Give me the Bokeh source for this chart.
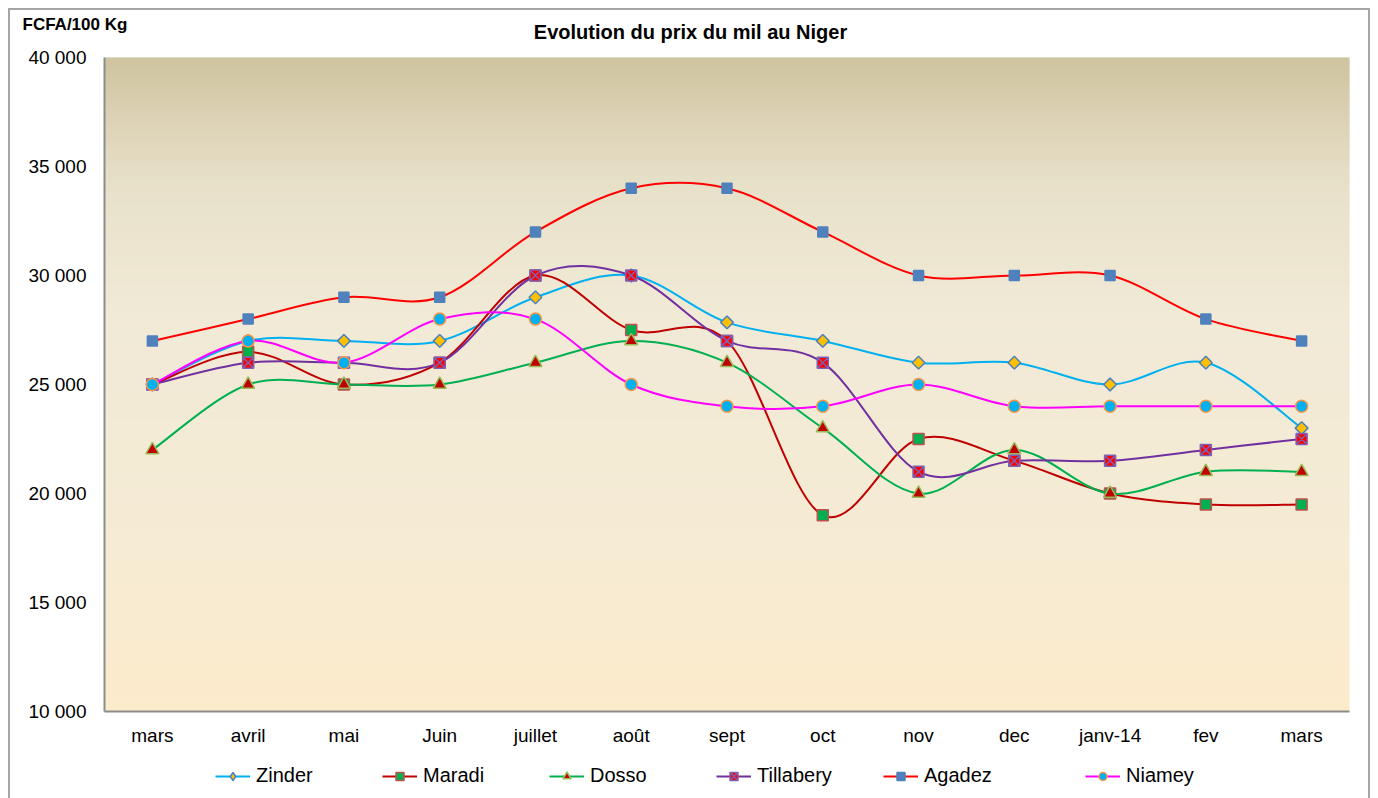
import math
from bokeh.plotting import figure
from bokeh.layouts import column
from bokeh.models import FixedTicker, Legend, LegendItem, Label
from bokeh.embed import file_html
from bokeh.resources import INLINE

# ---------------- data ----------------
months = ["mars", "avril", "mai", "Juin", "juillet", "août", "sept", "oct",
          "nov", "dec", "janv-14", "fev", "mars"]
zinder    = [25000, 27000, 27000, 27000, 29000, 30000, 27850, 27000, 26000, 26000, 25000, 26000, 23000]
maradi    = [25000, 26500, 25000, 26000, 30000, 27500, 27000, 19000, 22500, 21500, 20000, 19500, 19500]
dosso     = [22000, 25000, 25000, 25000, 26000, 27000, 26000, 23000, 20000, 22000, 20000, 21000, 21000]
tillabery = [25000, 26000, 26000, 26000, 30000, 30000, 27000, 26000, 21000, 21500, 21500, 22000, 22500]
agadez    = [27000, 28000, 29000, 29000, 32000, 34000, 34000, 32000, 30000, 30000, 30000, 28000, 27000]
niamey    = [25000, 27000, 26000, 28000, 28000, 25000, 24000, 24000, 25000, 24000, 24000, 24000, 24000]
series_names = ["Zinder", "Maradi", "Dosso", "Tillabery", "Agadez", "Niamey"]
series_values = [zinder, maradi, dosso, tillabery, agadez, niamey]
y_ticks = [10000, 15000, 20000, 25000, 30000, 35000, 40000]
y_tick_labels = ["10 000", "15 000", "20 000", "25 000", "30 000", "35 000", "40 000"]
title_text = "Evolution du prix du mil au Niger"
unit_text = "FCFA/100  Kg"

# ---------------- styles ----------------
styles = {
    "Zinder":    dict(line="#00B0F0", marker="square",   angle=math.pi / 4, fill="#FFC000", outline="#4F81BD", size=9,
                      leg_marker="diamond", leg_size=13),
    "Maradi":    dict(line="#C00000", marker="square",   angle=0, fill="#00B050", outline="#C0504D", size=11),
    "Dosso":     dict(line="#00B050", marker="triangle", angle=0, fill="#C00000", outline="#9BBB59", size=13),
    "Tillabery": dict(line="#7030A0", marker="square_x", angle=0, fill="#FF0000", outline="#7F5FB0", size=11),
    "Agadez":    dict(line="#FF0000", marker="square",   angle=0, fill="#4F81BD", outline="#4F81BD", size=10),
    "Niamey":    dict(line="#FF00FF", marker="circle",   angle=0, fill="#00B0F0", outline="#F79646", size=12),
}
FONT = "Liberation Sans"
W = 1358
HEAD_H = 35
TOP_PAD = 12

def bare_fig(h):
    f = figure(width=W, height=h, output_backend="svg", toolbar_location=None,
               x_range=(0, W), y_range=(0, h), min_border=0,
               x_axis_type=None, y_axis_type=None)
    f.frame_align = False
    f.grid.grid_line_color = None
    f.outline_line_color = None
    f.background_fill_color = "white"
    f.border_fill_color = "white"
    return f

# ---------------- header ----------------
head = bare_fig(HEAD_H)
head.add_layout(Label(x=680, y=HEAD_H - 21, x_units="screen", y_units="screen",
                      text=title_text, text_font=FONT, text_font_size="20px",
                      text_font_style="bold", text_color="black",
                      text_align="center", text_baseline="middle"))
head.add_layout(Label(x=12, y=HEAD_H - 14, x_units="screen", y_units="screen",
                      text=unit_text, text_font=FONT, text_font_size="17px",
                      text_font_style="bold", text_color="black",
                      text_align="left", text_baseline="middle"))

# ---------------- main plot ----------------
p = figure(width=W, height=694 + TOP_PAD, output_backend="svg", toolbar_location=None,
           x_range=(-0.5, len(months) - 0.5), y_range=(10000, 40000),
           min_border_left=94, min_border_right=19, min_border_top=TOP_PAD, min_border_bottom=40)
p.frame_align = False
p.background_fill_color = None
p.border_fill_color = "white"
p.outline_line_color = None

def hex2rgb(h):
    h = h.lstrip("#")
    return tuple(int(h[i:i + 2], 16) for i in (0, 2, 4))

stops = [(0.0, "#FCEBCB"), (0.3, "#F5EBD5"), (0.6, "#F1EAD6"), (0.8, "#E8E1CA"),
         (0.9, "#DDD3B6"), (1.0, "#CFC39F")]

def grad(t):
    for (t0, c0), (t1, c1) in zip(stops[:-1], stops[1:]):
        if t0 <= t <= t1:
            a = (t - t0) / (t1 - t0)
            r0, g0, b0 = hex2rgb(c0)
            r1, g1, b1 = hex2rgb(c1)
            return "#%02x%02x%02x" % (round(r0 + (r1 - r0) * a), round(g0 + (g1 - g0) * a), round(b0 + (b1 - b0) * a))
    return stops[-1][1]

n_strips = 150
ymin, ymax = 10000, 40000
bots = [ymin + (ymax - ymin) * i / n_strips for i in range(n_strips)]
tops = [ymin + (ymax - ymin) * (i + 1) / n_strips for i in range(n_strips)]
cols = [grad((i + 0.5) / n_strips) for i in range(n_strips)]
p.quad(left=-0.5, right=len(months) - 0.5, bottom=bots, top=tops,
       fill_color=cols, line_color=cols, line_width=1)

p.xgrid.grid_line_color = None
p.ygrid.ticker = FixedTicker(ticks=y_ticks)
p.ygrid.grid_line_color = "#7f7f7f"
p.ygrid.grid_line_dash = "4 3"
p.ygrid.grid_line_width = 1.2

xs = list(range(len(months)))
p.xaxis.ticker = FixedTicker(ticks=xs)
p.xaxis.major_label_overrides = {i: m for i, m in enumerate(months)}
p.yaxis.ticker = FixedTicker(ticks=y_ticks)
p.yaxis.major_label_overrides = {t: l for t, l in zip(y_ticks, y_tick_labels)}
for ax in (p.xaxis[0], p.yaxis[0]):
    ax.major_tick_line_color = None
    ax.minor_tick_line_color = None
    ax.major_tick_out = 0
    ax.major_tick_in = 0
    ax.axis_line_color = "#8c8c8c"
    ax.axis_line_width = 2
    ax.major_label_text_font = FONT
    ax.major_label_text_font_size = "19px"
    ax.major_label_text_color = "black"
p.xaxis.major_label_standoff = 13
p.yaxis.major_label_standoff = 18

def bezier_segments(xv, yv):
    n = len(xv)
    seg = dict(x0=[], y0=[], x1=[], y1=[], cx0=[], cy0=[], cx1=[], cy1=[])
    for i in range(n - 1):
        a = i - 1 if i > 0 else i
        d = i + 2 if i + 2 < n else i + 1
        seg["x0"].append(xv[i]); seg["y0"].append(yv[i])
        seg["x1"].append(xv[i + 1]); seg["y1"].append(yv[i + 1])
        seg["cx0"].append(xv[i] + (xv[i + 1] - xv[a]) / 6)
        seg["cy0"].append(yv[i] + (yv[i + 1] - yv[a]) / 6)
        seg["cx1"].append(xv[i + 1] - (xv[d] - xv[i]) / 6)
        seg["cy1"].append(yv[i + 1] - (yv[d] - yv[i]) / 6)
    return seg

for name, vals in zip(series_names, series_values):
    st = styles[name]
    p.bezier(line_color=st["line"], line_width=2, **bezier_segments(xs, vals))
    p.scatter(x=xs, y=vals, marker=st["marker"], size=st["size"], angle=st["angle"],
              fill_color=st["fill"], line_color=st["outline"], line_width=1.5)

# ---------------- legend strip ----------------
leg = bare_fig(47)
items = []
for name in series_names:
    st = styles[name]
    ln = leg.line(x=[-100], y=[-100], line_color=st["line"], line_width=2)
    sc = leg.scatter(x=[-100], y=[-100], marker=st.get("leg_marker", st["marker"]),
                     size=st.get("leg_size", st["size"]),
                     fill_color=st["fill"], line_color=st["outline"], line_width=1.5)
    items.append(LegendItem(label=name, renderers=[ln, sc]))

def make_legend(its, loc):
    return Legend(items=its, orientation="horizontal", location=loc,
                  label_text_font=FONT, label_text_font_size="20px", label_text_color="black",
                  glyph_width=35, glyph_height=20, label_standoff=6,
                  label_width=98, spacing=28, padding=0, margin=0,
                  border_line_color=None, background_fill_alpha=0)

leg.add_layout(make_legend(items[:5], (205, 11)), "center")
leg.add_layout(make_legend(items[5:], (1075, 11)), "center")

layout = column(head, p, leg, spacing=0)
layout.styles = {"border-top": "2px solid #a6a6a6", "border-left": "2px solid #a6a6a6",
                 "border-right": "2px solid #a6a6a6", "margin-left": "8px", "margin-top": "8px"}

open("out.html", "w").write(file_html(layout, INLINE))
